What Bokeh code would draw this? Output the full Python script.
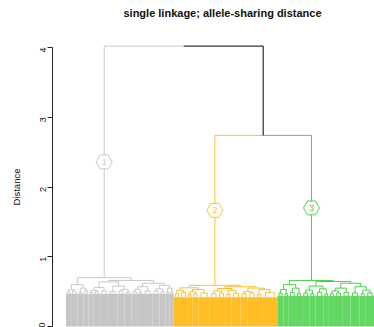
import math

from bokeh.core.properties import value
from bokeh.embed import file_html
from bokeh.models import ColumnDataSource, FixedTicker, Label, Range1d, Title
from bokeh.plotting import figure
from bokeh.resources import INLINE

title_text = "single linkage; allele-sharing distance"
y_label = "Distance"
y_ticks = [0, 1, 2, 3, 4]

cluster_ids = ["1", "2", "3"]
cluster_line_colors = ["#C9C9C9", "#FFBE2C", "#4ECF4E"]
cluster_fill_colors = ["#C6C6C6", "#FFBD26", "#62D862"]
cluster_block_tops = [0.47, 0.42, 0.44]

root_height = 4.02
merge_23_height = 2.74

# Subtrees: [merge height, left, right] for merges, (leaf count, twig height) for leaf bundles
cluster_1 = [0.70,
             [0.60, [0.53, (5, 0.50), (6, 0.51)], [0.55, (6, 0.49), (5, 0.52)]],
             [0.66,
              [0.64, [0.56, [0.52, (5, 0.49), (6, 0.50)], (8, 0.51)],
                     [0.58, (9, 0.50), [0.53, (7, 0.51), (7, 0.49)]]],
              [0.62, [0.57, [0.53, (6, 0.50), (5, 0.49)], (9, 0.51)],
                     [0.59, [0.54, (7, 0.51), (6, 0.50)], [0.55, (4, 0.49), (4, 0.50)]]]]]

cluster_2 = [0.59,
             [0.555, [0.52, (6, 0.47), (7, 0.49)],
                     [0.53, [0.50, (5, 0.46), (6, 0.47)], (11, 0.48)]],
             [0.57,
              [0.545, [0.51, (8, 0.47), (7, 0.48)], [0.52, (6, 0.46), (9, 0.48)]],
              [0.55, [0.50, (7, 0.47), (8, 0.48)], [0.53, (6, 0.46), (15, 0.49)]]]]

cluster_3 = [0.66,
             [0.60, [0.53, (6, 0.48), (5, 0.47)], [0.55, (7, 0.49), (6, 0.47)]],
             [0.645,
              [0.58, [0.52, (7, 0.48), (6, 0.47)], [0.54, (8, 0.49), (5, 0.47)]],
              [0.62, [0.55, [0.51, (6, 0.47), (7, 0.48)], (8, 0.49)],
                     [0.57, (9, 0.48), [0.52, (6, 0.47), (8, 0.48)]]]]]

cluster_trees = [cluster_1, cluster_2, cluster_3]

segs = dict(x0=[], y0=[], x1=[], y1=[], color=[])
blocks = dict(left=[], right=[], top=[], color=[])


def add_seg(x0, y0, x1, y1, color):
    segs["x0"].append(x0)
    segs["y0"].append(y0)
    segs["x1"].append(x1)
    segs["y1"].append(y1)
    segs["color"].append(color)


def add_edge(px, ph, cx, ch, color):
    # elbow from a parent node down to one child
    add_seg(px, ph, cx, ph, color)
    add_seg(cx, ph, cx, ch, color)


def lay_out(node, start, line_color, fill_color, block_top):
    """Place a subtree whose first leaf is at position `start`.
    Returns (x, height, next free leaf position)."""
    if isinstance(node, tuple):
        n, h = node
        blocks["left"].append(start - 0.5)
        blocks["right"].append(start + n - 0.5)
        blocks["top"].append(block_top)
        blocks["color"].append(fill_color)
        a = start + (n - 1) * 0.2
        b = start + (n - 1) * 0.8
        add_seg(a, h, b, h, line_color)
        add_seg(a, h, a, block_top, line_color)
        add_seg(b, h, b, block_top, line_color)
        return start + (n - 1) / 2, h, start + n
    h, left, right = node
    lx, lh, nxt = lay_out(left, start, line_color, fill_color, block_top)
    rx, rh, nxt = lay_out(right, nxt, line_color, fill_color, block_top)
    x = (lx + rx) / 2
    add_edge(x, h, lx, lh, line_color)
    add_edge(x, h, rx, rh, line_color)
    return x, h, nxt


tops = []
pos = 1
for tree, lc, fc, bt in zip(cluster_trees, cluster_line_colors,
                            cluster_fill_colors, cluster_block_tops):
    x, h, pos = lay_out(tree, pos, lc, fc, bt)
    tops.append((x, h))
n_leaves = pos - 1

(c1x, c1h), (c2x, c2h), (c3x, c3h) = tops
m23x = (c2x + c3x) / 2
root_x = (c1x + m23x) / 2
add_edge(m23x, merge_23_height, c2x, c2h, cluster_line_colors[1])
add_edge(m23x, merge_23_height, c3x, c3h, cluster_line_colors[2])
add_edge(root_x, root_height, c1x, c1h, cluster_line_colors[0])
add_edge(root_x, root_height, m23x, merge_23_height, "#000000")

# cluster badges halfway along each cluster's top branch
badge = dict(
    x=[c1x, c2x, c3x],
    y=[(root_height + c1h) / 2, (merge_23_height + c2h) / 2, (merge_23_height + c3h) / 2],
    label=cluster_ids,
    color=cluster_line_colors,
)

# screen geometry: px per distance unit and per leaf
y_scale = 69.75
x_scale = 307 / (n_leaves - 1)
frame_left = 52
W, H = 374, 327
x_start = 1 - 14 / x_scale
x_end = x_start + (W - frame_left) / x_scale


def px_to_x(px):
    return 1 + (px - 66) / x_scale


def py_to_y(py):
    return (326 - py) / y_scale


p = figure(width=W, height=H, output_backend="svg", toolbar_location=None,
           x_range=Range1d(x_start, x_end),
           y_range=Range1d(-1 / y_scale, 326 / y_scale),
           min_border_left=frame_left, min_border_right=0,
           min_border_top=0, min_border_bottom=0)
p.xaxis.visible = False
p.xgrid.visible = False
p.ygrid.visible = False
p.outline_line_color = None
p.background_fill_color = "white"
p.border_fill_color = "white"

p.quad(left="left", right="right", bottom=0, top="top", fill_color="color",
       line_color=None, source=ColumnDataSource(blocks))
p.segment(x0="x0", y0="y0", x1="x1", y1="y1", line_color="color",
          line_width=1, source=ColumnDataSource(segs))

bsrc = ColumnDataSource(badge)
p.scatter(x="x", y="y", marker="hex", size=16, fill_color="white",
          line_color="color", line_width=1, source=bsrc)
p.text(x="x", y="y", text="label", text_color="color", text_align="center",
       text_baseline="middle", text_font=value("Liberation Sans"),
       text_font_size="9px", source=bsrc)

ax = p.yaxis[0]
ax.ticker = FixedTicker(ticks=y_ticks)
ax.bounds = (0, 4)
ax.axis_line_color = "#222222"
ax.major_tick_line_color = "#222222"
ax.major_tick_out = 5
ax.major_tick_in = 0
ax.minor_tick_line_color = None
ax.major_label_orientation = math.pi / 2
ax.major_label_text_font = "Liberation Sans"
ax.major_label_text_font_size = "9px"
ax.major_label_text_color = "#111111"
ax.major_label_standoff = 5

# axis caption as a side title so it can sit level with the 0-4 span
p.add_layout(Title(text=y_label, align="left", offset=122, vertical_align="top",
                   standoff=20, text_font="Liberation Sans", text_font_size="9.5px",
                   text_font_style="normal", text_color="#111111"), "left")

p.add_layout(Label(x=px_to_x(222), y=py_to_y(12),
                   text=title_text, text_align="center", text_baseline="middle",
                   text_font="Liberation Sans", text_font_size="11px",
                   text_font_style="bold", text_color="#111111"))

open("out.html", "w").write(file_html(p, INLINE))
